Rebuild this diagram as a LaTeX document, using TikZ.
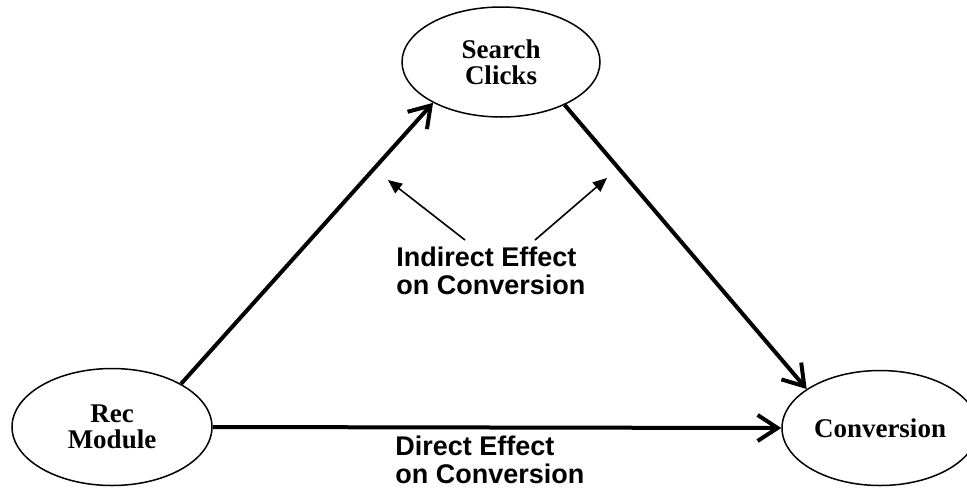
\documentclass[tikz,border=0pt]{standalone}
\usepackage{fontspec}
\setmainfont{Liberation Serif}
\newfontfamily\labelfont{Liberation Sans}
\usetikzlibrary{shapes.geometric,arrows.meta}
\tikzset{
  var/.style={ellipse, draw, line width=0.75pt, inner sep=0pt, align=center,
    font=\fontsize{13.5}{13}\selectfont\bfseries},
  main/.style={line width=2pt, -{Straight Barb[length=10pt,width=13pt,line width=2pt]}},
  pointer/.style={line width=0.8pt, -{Triangle[length=7pt,width=6pt]}},
  lab/.style={anchor=north west, inner sep=0pt, align=left,
    font=\labelfont\fontsize{13.5}{14}\selectfont\bfseries}
}
\begin{document}
\begin{tikzpicture}[x=0.5pt,y=-0.5pt]
\useasboundingbox (0,0) rectangle (967,488);
\node[var, minimum width=99pt, minimum height=55pt] (search) at (501,62) {Search\\Clicks};
\node[var, minimum width=100pt, minimum height=58.5pt] (rec) at (112,427) {Rec\\Module};
\node[var, minimum width=98pt, minimum height=57.5pt] (conv) at (880,428) {Conversion};
\draw[main] (rec.32) -- (search.211);
\draw[main] (search.326) -- (conv.152);
\draw[main] (rec.east) -- (conv.west);
\node[lab] (ind) at (396,247) {Indirect Effect\\on Conversion};
\node[lab] (dir) at (395,436) {Direct Effect\\on Conversion};
\coordinate (pl) at (388,180);
\coordinate (pr) at (607,178);
\coordinate (tl) at (465,240);
\coordinate (tr) at (535,240);
\draw[pointer] (tl) -- (pl);
\draw[pointer] (tr) -- (pr);
\end{tikzpicture}
\end{document}
